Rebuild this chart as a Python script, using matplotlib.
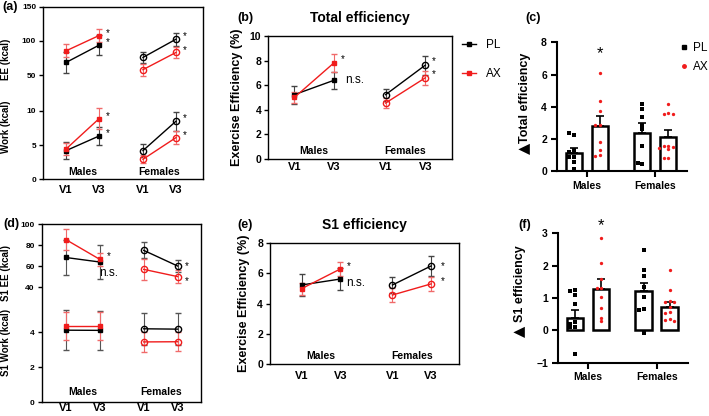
import numpy as np
import matplotlib.pyplot as plt
import matplotlib.transforms as mtrans
from matplotlib.lines import Line2D

plt.rcParams['font.family'] = ['Liberation Sans', 'DejaVu Sans']
plt.rcParams['font.weight'] = 'bold'
plt.rcParams['axes.titleweight'] = 'bold'
plt.rcParams['axes.labelweight'] = 'bold'
plt.rcParams['axes.linewidth'] = 1.0

RED = '#f01c1c'
visits = ['V1', 'V3', 'V1', 'V3']
sexes = ['Males', 'Females']

# ---- (a) EE and work, per visit (Males V1, V3, Females V1, V3)
a_ee_pl = [68.4, 93.7, 75.7, 102.4]
a_ee_pl_err = [15.5, 14.5, 7.8, 9.7]
a_ee_ax = [85.4, 107.8, 57.8, 83.0]
a_ee_ax_err = [9.5, 9.7, 9.0, 8.0]
a_work_pl = [4.2, 6.34, 4.2, 8.5]
a_work_pl_err = [1.27, 1.27, 0.95, 1.4]
a_work_ax = [4.44, 8.88, 2.93, 6.1]
a_work_ax_err = [0.85, 1.5, 0.6, 0.9]

# ---- (b) total efficiency (%)
b_pl = [5.23, 6.4, 5.23, 7.63]
b_pl_err = [0.74, 0.68, 0.5, 0.78]
b_ax = [5.0, 7.82, 4.55, 6.6]
b_ax_err = [0.48, 0.74, 0.37, 0.57]

# ---- (c) delta total efficiency
c_means = [1.16, 2.81, 2.4, 2.15]   # M-PL, M-AX, F-PL, F-AX
c_sem = [0.29, 0.6, 0.57, 0.41]
c_m_pl = [2.25, 2.35, 1.3, 1.2, 0.9, 0.9, 0.6, 0.15]
c_m_ax = [6.07, 4.38, 3.76, 2.9, 2.9, 1.8, 1.3, 1.0, 0.95]
c_f_pl = [4.2, 3.86, 3.39, 2.9, 2.6, 1.58, 0.46, 0.52]
c_f_ax = [4.2, 3.6, 3.55, 3.55, 1.6, 1.55, 1.5, 1.45, 1.4, 0.85, 0.8]

# ---- (d) S1 EE and work
d_ee_pl = [68.4, 64.1, 75.2, 60.3]
d_ee_pl_err = [16.7, 16.2, 7.5, 5.7]
d_ee_ax = [85.5, 66.7, 57.1, 50.2]
d_ee_ax_err = [9.7, 6.0, 10.0, 6.3]
d_work_pl = [4.12, 4.11, 4.2, 4.18]
d_work_pl_err = [1.13, 1.13, 0.9, 0.9]
d_work_ax = [4.37, 4.37, 3.45, 3.46]
d_work_ax_err = [0.81, 0.81, 0.55, 0.55]

# ---- (e) S1 efficiency (%)
e_pl = [5.22, 5.61, 5.22, 6.47]
e_pl_err = [0.75, 0.7, 0.52, 0.67]
e_ax = [4.98, 6.27, 4.56, 5.29]
e_ax_err = [0.4, 0.47, 0.44, 0.47]

# ---- (f) delta S1 efficiency
f_means = [0.38, 1.29, 1.21, 0.72]
f_sem = [0.24, 0.29, 0.26, 0.16]
f_m_pl = [1.25, 1.22, 1.1, 0.82, 0.25, 0.2, 0.1, 0.1, -0.72]
f_m_ax = [2.87, 2.09, 1.6, 1.32, 1.32, 1.03, 0.7, 0.39, 0.29]
f_f_pl = [2.47, 1.86, 1.67, 1.34, 1.03, 0.67, 0.62, -0.07]
f_f_ax = [1.88, 1.26, 0.9, 0.88, 0.88, 0.72, 0.57, 0.55, 0.35, 0.33, 0.3]

W, H = 709, 416
fig = plt.figure(figsize=(W / 100, H / 100), dpi=100)


def add_ax(l, r, t, b):
    return fig.add_axes([l / W, 1 - b / H, (r - l) / W, (b - t) / H])


def draw_series(ax, x, y, err, color, ecolor):
    x = np.asarray(x); y = np.asarray(y); err = np.asarray(err)
    for sl, mk, mfc, ms in [(slice(0, 2), 's', color, 3), (slice(2, 4), 'o', 'none', 4.5)]:
        ax.errorbar(x[sl], y[sl], yerr=err[sl], color=color, ecolor=ecolor,
                    elinewidth=0.8, capsize=2, capthick=0.8, marker=mk, ms=ms,
                    mfc=mfc, mec=color, mew=1, lw=1)


def star(ax, x, y, txt='*', dx=5, dy=0, fs=7):
    ax.annotate(txt, (x, y), xytext=(dx, dy), textcoords='offset points',
                fontsize=fs, va='center', ha='left', fontweight='normal')


def line_axes(ax, xpos, xlim, sex_y, pad):
    ax.set_xlim(*xlim)
    ax.set_xticks(xpos)
    ax.set_xticklabels(visits, fontsize=8)
    ax.tick_params(axis='x', length=0, pad=pad)
    ax.tick_params(axis='y', length=3, width=1, labelsize=7, pad=2)
    for i, s in enumerate(sexes):
        ax.text((xpos[2 * i] + xpos[2 * i + 1]) / 2, sex_y, s, ha='center',
                va='bottom', fontsize=7.5)


# ================= (a)
ax = add_ax(43, 203, 6.7, 179.3)
xa = [0, 1, 2.33, 3.33]
off_a = 10.27
tr_a = lambda v: off_a + np.asarray(v) / 10.0
draw_series(ax, xa, tr_a(a_ee_pl), np.asarray(a_ee_pl_err) / 10, 'black', '#444444')
draw_series(ax, xa, tr_a(a_ee_ax), np.asarray(a_ee_ax_err) / 10, RED, '#f06a6a')
draw_series(ax, xa, a_work_pl, a_work_pl_err, 'black', '#444444')
draw_series(ax, xa, a_work_ax, a_work_ax_err, RED, '#f06a6a')
ax.set_ylim(0, off_a + 15)
ax.set_yticks([0, 5, 10, off_a + 5, off_a + 10, off_a + 15])
ax.set_yticklabels(['0', '5', '10', '50', '100', '150'], fontsize=6)
line_axes(ax, xa, (-0.70, 4.15), 0.4, 4)
ax.tick_params(axis='y', labelsize=6)
for i in (1, 3):
    star(ax, xa[i], tr_a(a_ee_pl[i]), dy=2)
    star(ax, xa[i], tr_a(a_ee_ax[i]), dy=2)
    star(ax, xa[i], a_work_pl[i], dy=2)
    star(ax, xa[i], a_work_ax[i], dy=2)
fig.text(6 / W, 1 - 59 / H, 'EE (kcal)', rotation=90, ha='center', va='center', fontsize=7)
fig.text(6 / W, 1 - 127 / H, 'Work (kcal)', rotation=90, ha='center', va='center', fontsize=7)
fig.text(2 / W, 1 - 7 / H, '(a)', ha='left', va='center', fontsize=9)

# ================= (b)
ax = add_ax(268.3, 451.7, 36, 159)
xb = [0, 1, 2.3, 3.3]
draw_series(ax, xb, b_pl, b_pl_err, 'black', '#444444')
draw_series(ax, xb, b_ax, b_ax_err, RED, '#f06a6a')
ax.set_ylim(0, 10)
ax.set_yticks(range(0, 11, 2))
line_axes(ax, xb, (-0.655, 3.965), 0.25, 2)
ax.tick_params(axis='y', labelsize=7.5)
ax.set_ylabel('Exercise Efficiency (%)', fontsize=9, labelpad=5)
ax.set_title('Total efficiency', fontsize=10, pad=10)
star(ax, xb[1], b_ax[1], dy=3)
star(ax, xb[1], b_pl[1], txt='n.s.', dx=8, dy=0, fs=8.5)
star(ax, xb[3], b_pl[3], dy=3)
star(ax, xb[3], b_ax[3], dy=3)
ax.legend(handles=[Line2D([], [], color='black', marker='s', ms=2.5, lw=1),
                   Line2D([], [], color=RED, marker='s', ms=2.5, lw=1)],
          labels=['PL', 'AX'], loc='upper left', bbox_to_anchor=(1.0, 1.06),
          frameon=False, handlelength=1.2, labelspacing=1.4,
          prop={'weight': 'normal', 'size': 8.5})
fig.text(237 / W, 1 - 18 / H, '(b)', ha='left', va='center', fontsize=9)


# ================= bar panels
def swarm(vals, dx, dy):
    placed, offs = [], []
    for v in vals:
        for k in [0, -1, 1, -2, 2, -3, 3]:
            o = k * dx
            if all(abs(o - po) > dx * 0.5 or abs(v - pv) >= dy for po, pv in placed):
                break
        placed.append((o, v))
        offs.append(o)
    return np.array(offs)


def bar_panel(ax, means, sem, groups, dy, ylim, yticks, label, lab_x, lab_y, tri_y, star_y):
    centers = np.array([-0.19, 0.19, 0.81, 1.19])
    ax.bar(centers, means, width=0.24, color='white', edgecolor='black', lw=1.8,
           yerr=[np.zeros(4), sem], error_kw=dict(capsize=3, elinewidth=1.2, capthick=1.2),
           zorder=2)
    for c, vals, col, mk in zip(centers, groups, ['black', RED, 'black', RED],
                                ['s', 'o', 's', 'o']):
        offs = swarm(vals, 0.065, dy)
        ax.plot(c + offs, vals, ls='none', marker=mk, ms=2.4, color=col, mew=0, zorder=3)
    ax.set_xlim(-0.44, 1.46)
    ax.set_ylim(*ylim)
    ax.set_yticks(yticks)
    ax.set_xticks([0, 1])
    ax.set_xticklabels(sexes, fontsize=8)
    for s in ('top', 'right'):
        ax.spines[s].set_visible(False)
    for s in ('left', 'bottom'):
        ax.spines[s].set_linewidth(1.5)
    ax.tick_params(length=4, width=1.5, labelsize=7.5, pad=3)
    ax.text(lab_x, lab_y, label, rotation=90, ha='center', va='center', fontsize=9,
            transform=ax.transAxes)
    ax.text(lab_x, tri_y, '\u25b2', rotation=90, ha='center', va='center', fontsize=10.5,
            family='DejaVu Sans', transform=ax.transAxes)
    trans = mtrans.blended_transform_factory(ax.transData, ax.transAxes)
    ax.text(0.19, star_y, '*', ha='center', va='center', fontsize=12,
            fontweight='normal', transform=trans, clip_on=False)


ax = add_ax(556.7, 686.7, 42.3, 171.3)
bar_panel(ax, c_means, c_sem, [c_m_pl, c_m_ax, c_f_pl, c_f_ax], 0.2, (0, 8),
          range(0, 9, 2), 'Total efficiency', -0.244, 0.57, 0.18, 0.91)
ax.legend(handles=[Line2D([], [], color='black', marker='s', ms=2.5, ls='none'),
                   Line2D([], [], color=RED, marker='o', ms=2.5, ls='none')],
          labels=['PL', 'AX'], loc='upper left', bbox_to_anchor=(0.96, 1.0),
          frameon=False, handlelength=0.5, handletextpad=0.5, labelspacing=0.55,
          borderpad=0, borderaxespad=0, prop={'weight': 'normal', 'size': 8.5})
fig.text(525 / W, 1 - 18 / H, '(c)', ha='left', va='center', fontsize=9)

# ================= (d)
ax = add_ax(41.7, 201.3, 224.3, 402.3)
xd = [0, 1, 2.3, 3.3]
tr_d = lambda v: 6.57 + (np.asarray(v) - 40) * 0.06
draw_series(ax, xd, tr_d(d_ee_pl), np.asarray(d_ee_pl_err) * 0.06, 'black', '#555555')
draw_series(ax, xd, tr_d(d_ee_ax), np.asarray(d_ee_ax_err) * 0.06, RED, '#f06a6a')
draw_series(ax, xd, d_work_pl, d_work_pl_err, 'black', '#555555')
draw_series(ax, xd, d_work_ax, d_work_ax_err, RED, '#f06a6a')
ax.set_ylim(0, float(tr_d(100)))
ax.set_yticks([0, 2, 4] + list(tr_d([40, 60, 80, 100])))
ax.set_yticklabels(['0', '2', '4', '40', '60', '80', '100'])
line_axes(ax, xd, (-0.71, 4.0), 0.3, 0.5)
ax.tick_params(axis='y', labelsize=6)
star(ax, xd[1], tr_d(d_ee_ax[1]), dy=2)
star(ax, xd[1], tr_d(d_ee_pl[1]), txt='n.s.', dx=0, dy=-8, fs=8.5)
star(ax, xd[3], tr_d(d_ee_pl[3]), dy=0)
star(ax, xd[3], tr_d(d_ee_ax[3]), dy=-3)
fig.text(6 / W, 1 - 273 / H, 'S1 EE (kcal)', rotation=90, ha='center', va='center', fontsize=7)
fig.text(6 / W, 1 - 342 / H, 'S1 Work (kcal)', rotation=90, ha='center', va='center', fontsize=7)
fig.text(3 / W, 1 - 224 / H, '(d)', ha='left', va='center', fontsize=9)

# ================= (e)
ax = add_ax(270, 459.3, 242.7, 364.3)
xe = [0, 1, 2.35, 3.35]
draw_series(ax, xe, e_pl, e_pl_err, 'black', '#444444')
draw_series(ax, xe, e_ax, e_ax_err, RED, '#f06a6a')
ax.set_ylim(0, 8)
ax.set_yticks(range(0, 9, 2))
line_axes(ax, xe, (-0.82, 4.08), 0.2, 5)
ax.tick_params(axis='y', labelsize=7.5)
ax.set_ylabel('Exercise Efficiency (%)', fontsize=9, labelpad=5)
ax.set_title('S1 efficiency', fontsize=10, pad=10)
star(ax, xe[1], e_ax[1], dy=2)
star(ax, xe[1], e_pl[1], txt='n.s.', dx=4, dy=-3, fs=8.5)
star(ax, xe[3], e_pl[3], dx=7, dy=0)
star(ax, xe[3], e_ax[3], dx=7, dy=2)
fig.text(237 / W, 1 - 225 / H, '(e)', ha='left', va='center', fontsize=9)

# ================= (f)
ax = add_ax(557.7, 688.3, 233.3, 362.7)
bar_panel(ax, f_means, f_sem, [f_m_pl, f_m_ax, f_f_pl, f_f_ax], 0.1, (-1, 3),
          range(-1, 4), 'S1 efficiency', -0.289, 0.61, 0.24, 1.06)
fig.text(518 / W, 1 - 225 / H, '(f)', ha='left', va='center', fontsize=9)

fig.savefig('out.png', dpi=100)
